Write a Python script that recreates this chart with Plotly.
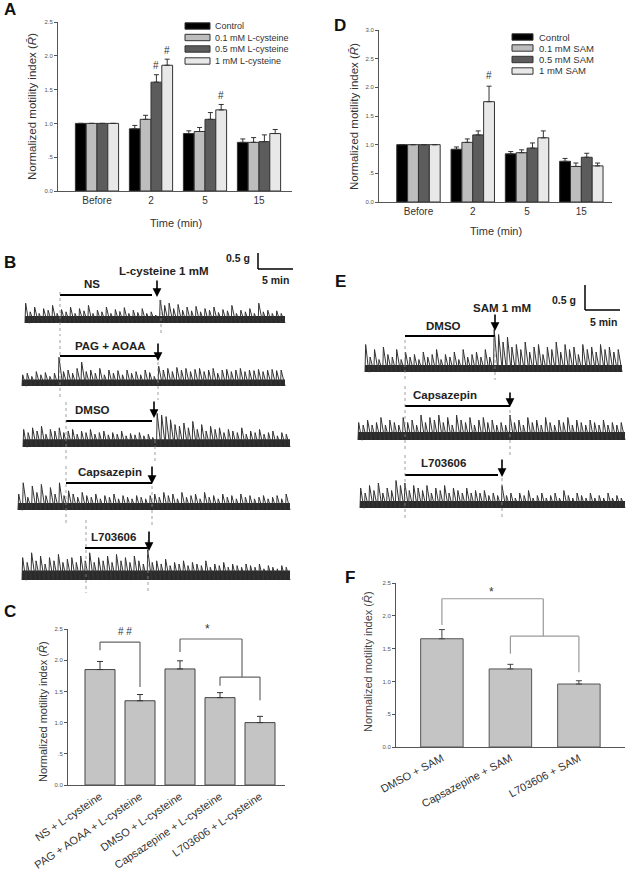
import numpy as np
import plotly.graph_objects as go

W, H = 629, 872
FONT = "Liberation Sans, Arial, Helvetica, sans-serif"
AXC = "#555555"
TXT = "#333333"

# ---------------- data ----------------
time_labels = ["Before", "2", "5", "15"]

cys_names = ["Control", "0.1 mM L-cysteine", "0.5 mM L-cysteine", "1 mM L-cysteine"]
cys_control = [1.00, 0.92, 0.85, 0.72]
cys_01 = [1.00, 1.06, 0.88, 0.72]
cys_05 = [1.00, 1.61, 1.06, 0.73]
cys_1 = [1.00, 1.86, 1.20, 0.85]
cys_control_err = [0.0, 0.05, 0.04, 0.05]
cys_01_err = [0.0, 0.06, 0.06, 0.07]
cys_05_err = [0.0, 0.11, 0.10, 0.10]
cys_1_err = [0.0, 0.09, 0.08, 0.06]
cys_marks = [(2, 1), (3, 1), (3, 2)]          # (series, time) marked '#'

sam_names = ["Control", "0.1 mM SAM", "0.5 mM SAM", "1 mM SAM"]
sam_control = [1.00, 0.92, 0.84, 0.71]
sam_01 = [1.00, 1.04, 0.86, 0.62]
sam_05 = [1.00, 1.17, 0.94, 0.78]
sam_1 = [1.00, 1.75, 1.12, 0.63]
sam_control_err = [0.0, 0.04, 0.04, 0.05]
sam_01_err = [0.0, 0.06, 0.05, 0.06]
sam_05_err = [0.0, 0.07, 0.09, 0.07]
sam_1_err = [0.0, 0.27, 0.12, 0.05]
sam_marks = [(3, 1)]

dose_colors = ["#000000", "#bdbdbd", "#5c5c5c", "#e8e8e8"]

c_labels = ["NS + L-cysteine", "PAG + AOAA + L-cysteine", "DMSO + L-cysteine",
            "Capsazepine + L-cysteine", "L703606 + L-cysteine"]
c_values = [1.85, 1.35, 1.86, 1.40, 1.00]
c_errors = [0.13, 0.10, 0.13, 0.08, 0.10]

f_labels = ["DMSO + SAM", "Capsazepine + SAM", "L703606 + SAM"]
f_values = [1.65, 1.19, 0.96]
f_errors = [0.14, 0.07, 0.05]

y_ticks_25 = [0, 0.5, 1.0, 1.5, 2.0, 2.5]
y_ticks_30 = [0, 0.5, 1.0, 1.5, 2.0, 2.5, 3.0]
y_ticktext = ["0.0", ".5", "1.0", "1.5", "2.0", "2.5", "3.0"]

# contraction recordings: spike amplitudes (g) read left to right
b_ns = [0.62,0.35,0.5,0.3,0.45,0.4,0.55,0.3,0.42,0.35,0.5,0.3,0.45,0.38,0.55,0.3,0.4,0.35,0.5,0.3,
        0.42,0.36,0.48,0.3,0.4,0.33,0.45,0.3,0.35,0.25,
        0.72,0.55,0.62,0.45,0.58,0.4,0.5,0.38,0.52,0.35,0.45,0.4,0.5,0.33,0.42,0.38,0.55,0.3,0.4,0.35,
        0.45,0.3,0.62,0.35,0.4,0.3,0.38,0.3]
b_pag = [0.35,0.4,0.3,0.45,0.35,0.42,0.3,0.4,0.9,0.45,0.5,0.4,0.55,0.75,0.45,0.5,0.4,0.55,0.35,0.5,
         0.4,0.48,0.35,0.5,0.4,0.45,0.35,0.5,0.42,0.3,
         0.62,0.5,0.55,0.45,0.58,0.5,0.55,0.45,0.52,0.55,0.45,0.5,0.55,0.4,0.5,0.52,0.45,0.5,0.55,0.45,
         0.5,0.48,0.52,0.45,0.5,0.52,0.48,0.5]
b_dmso = [0.55,0.45,0.6,0.5,0.65,0.4,0.55,0.5,0.6,0.45,0.5,0.55,0.4,0.5,0.45,0.55,0.4,0.45,0.5,0.38,
          0.45,0.4,0.5,0.35,0.42,0.38,0.45,0.35,0.4,0.3,
          1.05,1.0,0.95,0.85,0.7,0.65,0.75,0.6,0.8,0.55,0.7,0.5,0.65,0.55,0.6,0.45,0.55,0.5,0.45,0.6,
          0.4,0.5,0.45,0.55,0.4,0.45,0.5,0.35,0.45,0.4]
b_capz = [0.5,0.85,0.4,0.75,0.55,0.8,0.45,0.7,0.5,0.85,0.45,0.6,0.5,0.4,0.55,0.45,0.4,0.5,0.35,0.45,
          0.4,0.5,0.35,0.45,0.4,0.35,0.45,0.4,0.35,0.45,
          0.5,0.4,0.55,0.45,0.5,0.35,0.55,0.4,0.45,0.5,0.35,0.55,0.4,0.45,0.35,0.5,0.4,0.45,0.35,0.5,
          0.4,0.45,0.35,0.4,0.45,0.35,0.4,0.45,0.35,0.5]
b_l70 = [0.7,0.55,0.85,0.6,0.75,0.5,0.7,0.6,0.8,0.55,0.65,0.7,0.55,0.75,0.6,0.85,0.55,0.7,0.6,0.75,
         0.55,0.8,0.6,0.7,0.55,0.75,0.6,0.5,
         0.95,0.55,0.6,0.5,0.65,0.45,0.55,0.5,0.6,0.45,0.55,0.5,0.45,0.6,0.4,0.5,0.45,0.55,0.4,0.5,
         0.45,0.4,0.5,0.45,0.4,0.5,0.35,0.45,0.4,0.35,0.45,0.4]
e_dmso = [0.55,0.3,0.45,0.25,0.5,0.35,0.3,0.45,0.25,0.4,0.3,0.35,0.25,0.4,0.3,0.35,0.45,0.25,0.35,0.3,
          0.4,0.25,0.45,0.3,0.35,0.4,0.3,0.45,0.3,
          0.85,0.75,0.6,0.7,0.5,0.55,0.45,0.6,0.4,0.5,0.55,0.35,0.5,0.45,0.6,0.4,0.55,0.45,0.5,0.35,
          0.55,0.45,0.5,0.4,0.55,0.45,0.5,0.4,0.45]
e_capz = [0.35,0.3,0.4,0.3,0.35,0.45,0.3,0.4,0.35,0.3,0.45,0.35,0.4,0.3,0.5,0.35,0.45,0.4,0.5,0.35,
          0.45,0.3,0.5,0.4,0.35,0.45,0.3,0.4,0.45,0.35,0.4,0.3,0.35,0.3,
          0.5,0.35,0.4,0.3,0.45,0.35,0.4,0.3,0.45,0.35,0.3,0.4,0.35,0.45,0.3,0.4,0.35,0.3,0.4,0.35,
          0.3,0.4,0.3,0.35,0.3,0.35]
e_l70 = [0.4,0.3,0.45,0.35,0.5,0.3,0.4,0.35,0.55,0.45,0.5,0.35,0.45,0.4,0.35,0.45,0.3,0.4,0.35,0.45,
         0.3,0.4,0.35,0.3,0.4,0.3,0.35,0.3,0.35,0.25,0.3,0.25,
         0.45,0.25,0.3,0.2,0.3,0.25,0.35,0.2,0.25,0.3,0.2,0.25,0.3,0.2,0.35,0.25,0.2,0.3,0.25,0.2,
         0.3,0.2,0.25,0.2,0.3,0.2,0.25,0.2]
# thickness (g) of the dense dark noise band at the bottom of each recording
b_floor = [0.22, 0.2, 0.24, 0.22, 0.3]
e_floor = [0.14, 0.16, 0.14]

# ---------------- helpers ----------------
def PX(px):
    return px / W

def PY(py):
    return 1 - py / H

fig = go.Figure()
shapes = []
annots = []

def txt(x, y, s, size=10, xref="paper", yref="paper", bold=False, color=TXT,
        xanchor="center", yanchor="middle", angle=0):
    if bold:
        s = "<b>" + s + "</b>"
    annots.append(dict(x=x, y=y, xref=xref, yref=yref, text=s, showarrow=False,
                       font=dict(family=FONT, size=size, color=color),
                       xanchor=xanchor, yanchor=yanchor, textangle=angle))

def line(x0, y0, x1, y1, xref="paper", yref="paper", color="#000", width=1, dash="solid"):
    shapes.append(dict(type="line", x0=x0, y0=y0, x1=x1, y1=y1, xref=xref, yref=yref,
                       line=dict(color=color, width=width, dash=dash)))

def yaxis_style(dom, rng, ticks, anchor):
    return dict(domain=[PY(dom[1]), PY(dom[0])], range=rng, showline=True, linecolor=AXC,
                linewidth=1, ticks="outside", ticklen=3, tickcolor=AXC, anchor=anchor,
                tickvals=ticks, ticktext=y_ticktext[:len(ticks)], showgrid=False,
                zeroline=False, tickfont=dict(family=FONT, size=6, color="#555"),
                fixedrange=True, automargin=False)

def xaxis_style(dom, rng, labels, anchor, size=10, angle=0):
    return dict(domain=[PX(dom[0]), PX(dom[1])], range=rng, showline=True, linecolor=AXC,
                linewidth=1, ticks="", tickvals=list(range(len(labels))), ticktext=labels,
                tickangle=angle, showgrid=False, zeroline=False, anchor=anchor,
                tickfont=dict(family=FONT, size=size, color=TXT), fixedrange=True,
                automargin=False)

def hidden_axis(dom, rng, anchor):
    return dict(domain=dom, range=rng, visible=False, anchor=anchor, fixedrange=True,
                automargin=False)

# ---------------- A and D: grouped bars ----------------
def grouped(xa, ya, names, vals, errs, marks, mark_gap, legend_px):
    for k in range(4):
        fig.add_trace(go.Bar(
            x=list(range(4)), y=vals[k], width=0.2, offset=-0.4 + 0.2 * k,
            marker=dict(color=dose_colors[k], line=dict(color="#333", width=1)),
            error_y=dict(type="data", array=errs[k], arrayminus=[0] * 4, symmetric=False,
                         color="#333", thickness=1, width=2.5),
            xaxis=xa, yaxis=ya, showlegend=False, name=names[k]))
    for s, t in marks:
        txt(t - 0.3 + 0.2 * s, vals[s][t] + errs[s][t] + mark_gap, "#", size=10,
            xref=xa, yref=ya)
    lx0, lx1, ys, tx, fs = legend_px
    for k in range(4):
        shapes.append(dict(type="rect", xref="paper", yref="paper",
                           x0=PX(lx0), x1=PX(lx1), y0=PY(ys[k] + 3.2), y1=PY(ys[k] - 3.2),
                           fillcolor=dose_colors[k], line=dict(color="#333", width=1)))
        txt(PX(tx), PY(ys[k]), names[k], size=fs, xanchor="left")

grouped("x", "y", cys_names,
        [cys_control, cys_01, cys_05, cys_1],
        [cys_control_err, cys_01_err, cys_05_err, cys_1_err],
        cys_marks, 0.13, (185, 210, [26, 37.5, 49, 61], 213, 9))
grouped("x2", "y2", sam_names,
        [sam_control, sam_01, sam_05, sam_1],
        [sam_control_err, sam_01_err, sam_05_err, sam_1_err],
        sam_marks, 0.18, (512, 533, [37, 48, 59.5, 71], 537, 9.5))

# ---------------- C and F: single bars ----------------
fig.add_trace(go.Bar(x=list(range(5)), y=c_values, width=0.75, offset=-0.375,
                     marker=dict(color="#c4c4c4", line=dict(color="#444", width=1)),
                     error_y=dict(type="data", array=c_errors, arrayminus=[0] * 5,
                                  symmetric=False, color="#333", thickness=1, width=3),
                     xaxis="x3", yaxis="y3", showlegend=False))
fig.add_trace(go.Bar(x=list(range(3)), y=f_values, width=0.62, offset=-0.31,
                     marker=dict(color="#c4c4c4", line=dict(color="#555", width=1)),
                     error_y=dict(type="data", array=f_errors, arrayminus=[0] * 3,
                                  symmetric=False, color="#444", thickness=1, width=3),
                     xaxis="x4", yaxis="y4", showlegend=False))

def bracket(xa, ya, xl, xr, ytop, yl, yr, color):
    line(xl, yl, xl, ytop, xa, ya, color, 1.2)
    line(xl, ytop, xr, ytop, xa, ya, color, 1.2)
    line(xr, ytop, xr, yr, xa, ya, color, 1.2)

bracket("x3", "y3", 0, 1, 2.29, 2.16, 1.57, "#666")
txt(0.62, 2.46, "# #", size=10, xref="x3", yref="y3")
bracket("x3", "y3", 2, 3.55, 2.34, 2.13, 1.73, "#666")
bracket("x3", "y3", 3, 4, 1.73, 1.59, 1.36, "#666")
txt(2.68, 2.5, "*", size=12, xref="x3", yref="y3")

bracket("x4", "y4", 0, 1.48, 2.26, 1.86, 1.69, "#9a9a9a")
bracket("x4", "y4", 1, 2, 1.69, 1.42, 1.14, "#9a9a9a")
txt(0.72, 2.37, "*", size=12, xref="x4", yref="y4")

# ---------------- B and E: recordings ----------------
def rec_panel(xa, ya, x0, x1, y0, y1, ppm, ppg, recs, floors):
    t = lambda px: (px - x0) / ppm
    g = lambda py: (y1 - py) / ppg
    for r, fl in zip(recs, floors):
        p = np.asarray(r["peaks"])
        n = len(p)
        ts, te = t(r["x"][0]), t(r["x"][1])
        b = g(r["base"])
        fig.add_trace(go.Scatter(x=[ts, te, te, ts, ts], y=[b, b, b + fl, b + fl, b],
                                 mode="lines", fill="toself", fillcolor="#2a2a2a",
                                 line=dict(width=0, color="#2a2a2a"), xaxis=xa, yaxis=ya,
                                 showlegend=False, hoverinfo="skip"))
        # each contraction: fast rise, slower relaxation
        starts = np.linspace(ts, te, n + 1)[:-1]
        dt = (te - ts) / n
        xs = np.column_stack([starts, starts + 0.15 * dt, starts + 0.85 * dt]).ravel()
        ys = np.column_stack([np.full(n, b), b + p, np.full(n, b)]).ravel()
        xs = np.append(xs, te)
        ys = np.append(ys, b)
        fig.add_trace(go.Scatter(x=xs, y=ys, mode="lines", xaxis=xa, yaxis=ya,
                                 line=dict(color="#333333", width=1), showlegend=False,
                                 hoverinfo="skip"))
        bx0, bx1, by = r["bar"]
        line(t(bx0), g(by), t(bx1), g(by), xa, ya, "#000", 2)
        lx, ly = r["label_at"]
        txt(t(lx), g(ly), r["label"], size=11.5, xref=xa, yref=ya, bold=True, color="#222")
        ax_, ay0, ay1 = r["arrow"]
        annots.append(dict(x=t(ax_), y=g(ay1), ax=t(ax_), ay=g(ay0), xref=xa, yref=ya,
                           axref=xa, ayref=ya, text="", showarrow=True, arrowhead=2,
                           arrowsize=1.1, arrowwidth=1.6, arrowcolor="#000"))
        for dx, dy0, dy1 in r["dots"]:
            line(t(dx), g(dy0), t(dx), g(dy1), xa, ya, "#888", 0.8, "dot")
    return t, g

B_recs = [
    dict(label="NS", peaks=b_ns, x=(25, 285), base=323, bar=(60, 152, 295), label_at=(92, 284),
         arrow=(157, 279, 297), dots=[(60, 292, 336), (161, 300, 336)]),
    dict(label="PAG + AOAA", peaks=b_pag, x=(22, 285), base=386, bar=(60, 157, 356),
         label_at=(110, 346), arrow=(158, 342, 361), dots=[(60, 340, 400), (158, 362, 400)]),
    dict(label="DMSO", peaks=b_dmso, x=(23, 290), base=447, bar=(66, 152, 421),
         label_at=(92, 410), arrow=(154, 400, 418), dots=[(66, 402, 462), (155, 440, 462)]),
    dict(label="Capsazepin", peaks=b_capz, x=(18, 290), base=510, bar=(66, 152, 483),
         label_at=(110, 472), arrow=(152, 465, 484), dots=[(66, 466, 525), (152, 486, 525)]),
    dict(label="L703606", peaks=b_l70, x=(22, 290), base=580, bar=(85, 148, 548),
         label_at=(113, 537), arrow=(149, 530, 551), dots=[(86, 520, 593), (148, 540, 593)]),
]
tB, gB = rec_panel("x5", "y5", 0, 300, 250, 600, 7, 32, B_recs, b_floor)
txt(tB(163), gB(271), "L-cysteine 1 mM", size=11.5, xref="x5", yref="y5", bold=True, color="#222")
line(tB(258), gB(253), tB(258), gB(253) - 0.5, "x5", "y5", "#000", 1.5)
line(tB(258), gB(253) - 0.5, tB(258) + 5, gB(253) - 0.5, "x5", "y5", "#000", 1.5)
txt(tB(252), gB(258), "0.5 g", size=10.5, xref="x5", yref="y5", bold=True,
    color="#222", xanchor="right")
txt(tB(275), gB(280), "5 min", size=10.5, xref="x5", yref="y5", bold=True, color="#222")

E_recs = [
    dict(label="DMSO", peaks=e_dmso, x=(365, 622), base=372, bar=(405, 495, 336),
         label_at=(443, 326), arrow=(495, 313, 331), dots=[(405, 340, 380), (495, 336, 380)]),
    dict(label="Capsazepin", peaks=e_capz, x=(358, 625), base=440, bar=(405, 510, 406),
         label_at=(445, 395), arrow=(510, 391, 407), dots=[(405, 386, 450), (510, 410, 455)]),
    dict(label="L703606", peaks=e_l70, x=(360, 625), base=508, bar=(405, 498, 475),
         label_at=(443, 463), arrow=(502, 458, 477), dots=[(405, 455, 520), (502, 478, 520)]),
]
tE, gE = rec_panel("x6", "y6", 320, 629, 280, 530, 7, 50, E_recs, e_floor)
txt(tE(502), gE(308), "SAM 1 mM", size=11.5, xref="x6", yref="y6", bold=True, color="#222")
line(tE(585), gE(285), tE(585), gE(285) - 0.5, "x6", "y6", "#000", 1.5)
line(tE(585), gE(285) - 0.5, tE(585) + 5, gE(285) - 0.5, "x6", "y6", "#000", 1.5)
txt(tE(578), gE(300), "0.5 g", size=10.5, xref="x6", yref="y6", bold=True,
    color="#222", xanchor="right")
txt(tE(603), gE(322), "5 min", size=10.5, xref="x6", yref="y6", bold=True, color="#222")

# ---------------- titles & panel letters ----------------
ytitle = "Normalized motility index (<i>R\u0304</i>)"
txt(PX(32), PY(107), ytitle, size=11.5, angle=-90)
txt(PX(354), PY(117), ytitle, size=11.5, angle=-90)
txt(PX(43), PY(712), ytitle, size=11, angle=-90)
txt(PX(368), PY(662), ytitle, size=11, angle=-90, color="#444")
txt(PX(176), PY(223), "Time (min)", size=11)
txt(PX(496), PY(231), "Time (min)", size=11)

for letter, (lx, ly) in {"A": (10, 10), "B": (10, 262), "C": (10, 611),
                         "D": (340, 25), "E": (340, 281), "F": (350, 577)}.items():
    txt(PX(lx), PY(ly), letter, size=17, bold=True, color="#111")

# ---------------- layout ----------------
fig.update_layout(
    width=W, height=H, margin=dict(l=0, r=0, t=0, b=0, pad=0, autoexpand=False),
    paper_bgcolor="white", plot_bgcolor="rgba(0,0,0,0)",
    barmode="overlay", showlegend=False,
    font=dict(family=FONT, color=TXT),
    xaxis=xaxis_style((58, 292), [-0.722, 3.611], time_labels, "y", size=10),
    yaxis=yaxis_style((22, 191), [0, 2.5], y_ticks_25, "x"),
    xaxis2=xaxis_style((379, 612), [-0.727, 3.565], time_labels, "y2", size=10),
    yaxis2=yaxis_style((30, 202), [0, 3.0], y_ticks_30, "x2"),
    xaxis3=xaxis_style((68, 285), [-0.8, 4.625], c_labels, "y3", size=11, angle=-34),
    yaxis3=yaxis_style((629, 785), [0, 2.5], y_ticks_25, "x3"),
    xaxis4=xaxis_style((396, 625), [-0.67, 2.673], f_labels, "y4", size=11, angle=-28),
    yaxis4=yaxis_style((583, 747), [0, 2.5], y_ticks_25, "x4"),
    xaxis5=hidden_axis([PX(0), PX(300)], [0, 300 / 7], "y5"),
    yaxis5=hidden_axis([PY(600), PY(250)], [0, 350 / 32], "x5"),
    xaxis6=hidden_axis([PX(320), PX(629)], [0, 309 / 7], "y6"),
    yaxis6=hidden_axis([PY(530), PY(280)], [0, 250 / 50], "x6"),
    shapes=shapes, annotations=annots,
)

fig.write_html("out.html", config={"displayModeBar": False, "staticPlot": True},
               post_script="document.body.style.margin='0px';"
                           "document.body.style.overflow='hidden';")
